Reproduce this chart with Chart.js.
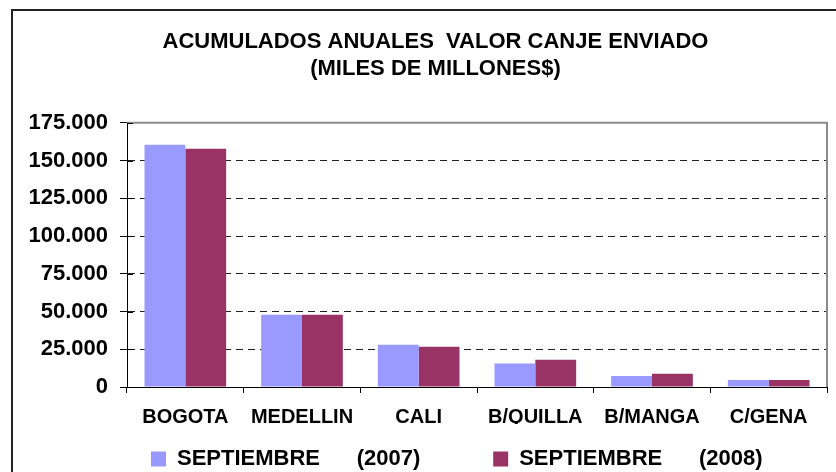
<!DOCTYPE html>
<html>
<head>
<meta charset="utf-8">
<script src="https://cdn.jsdelivr.net/npm/chart.js@4"></script>
<style>
  body { margin: 0; background: #fff; }
</style>
</head>
<body>
<canvas id="chart" width="836" height="472"></canvas>
<script>
const ciudades = ['BOGOTA', 'MEDELLIN', 'CALI', 'B/QUILLA', 'B/MANGA', 'C/GENA'];
const sept2007 = [160400, 47900, 28000, 15500, 7300, 4700];
const sept2008 = [157800, 47900, 26700, 18000, 8700, 4700];
const serieLabels = ['SEPTIEMBRE      (2007)', 'SEPTIEMBRE      (2008)'];
const titulo = ['ACUMULADOS ANUALES  VALOR CANJE ENVIADO', '(MILES DE MILLONES$)'];

const fuente = "'Liberation Sans', Arial, sans-serif";

// miles con punto
const fmt = v => String(v).replace(/\B(?=(\d{3})+(?!\d))/g, '.');

// marco exterior, borde gris del area y marcas internas del eje Y
const marcos = {
  id: 'marcos',
  afterLayout(chart) {
    // el titulo va centrado en el marco de Excel, un poco a la derecha
    chart.titleBlock.left += 15;
    chart.titleBlock.right += 15;
  },
  beforeDraw(chart) {
    const ctx = chart.ctx;
    ctx.save();
    ctx.fillStyle = '#fff';
    ctx.fillRect(0, 0, chart.width, chart.height);
    ctx.strokeStyle = '#222';
    ctx.lineWidth = 2;
    ctx.strokeRect(12, 10, 900, 600);
    ctx.restore();
  },
  afterDraw(chart) {
    const { ctx, chartArea: a } = chart;
    const y = chart.scales.y;
    ctx.save();
    ctx.strokeStyle = '#8c8c8c';
    ctx.lineWidth = 2;
    ctx.beginPath();
    ctx.moveTo(a.left, a.top);
    ctx.lineTo(a.right, a.top);
    ctx.lineTo(a.right, a.bottom);
    ctx.stroke();
    ctx.strokeStyle = '#000';
    ctx.lineWidth = 1;
    ctx.beginPath();
    y.ticks.forEach(t => {
      const py = Math.round(y.getPixelForValue(t.value)) + 0.5;
      ctx.moveTo(a.left, py);
      ctx.lineTo(a.left + 6, py);
    });
    ctx.stroke();
    ctx.restore();
  }
};

new Chart(document.getElementById('chart'), {
  type: 'bar',
  data: {
    labels: ciudades,
    datasets: [
      { label: serieLabels[0], data: sept2007, backgroundColor: '#9999FF' },
      { label: serieLabels[1], data: sept2008, backgroundColor: '#993366' }
    ]
  },
  options: {
    responsive: false,
    animation: false,
    layout: { padding: { left: 14, right: 9, top: 0, bottom: -8 } },
    datasets: {
      bar: { categoryPercentage: 0.7, barPercentage: 1 }
    },
    plugins: {
      title: {
        display: true,
        text: titulo,
        color: '#000',
        font: { family: fuente, size: 22, weight: 'bold' },
        padding: { top: 29, bottom: 41 }
      },
      legend: {
        position: 'bottom',
        fullSize: false,
        align: 'start',
        labels: {
          color: '#000',
          font: { family: fuente, size: 22, weight: 'bold' },
          boxWidth: 15,
          boxHeight: 15,
          padding: 24,
          generateLabels(chart) {
            const items = Chart.defaults.plugins.legend.labels.generateLabels(chart);
            items.forEach((it, i) => {
              it.lineWidth = 0;
              if (i === 0) it.text = it.text + ' '.repeat(8);
            });
            return items;
          }
        }
      },
      tooltip: { enabled: false }
    },
    scales: {
      x: {
        grid: {
          offset: true,
          drawOnChartArea: false,
          tickLength: 6,
          color: '#000'
        },
        border: { color: '#000', width: 1 },
        ticks: {
          color: '#000',
          padding: 12,
          maxRotation: 0,
          font: { family: fuente, size: 20, weight: 'bold' }
        },
        afterFit(s) { s.height = 37; }
      },
      y: {
        min: 0,
        max: 175000,
        ticks: {
          stepSize: 25000,
          color: '#000',
          padding: 12,
          font: { family: fuente, size: 22, weight: 'bold' },
          callback: v => fmt(v)
        },
        grid: {
          color: ctx => (ctx.tick && (ctx.tick.value === 0 || ctx.tick.value === 175000)) ? 'rgba(0,0,0,0)' : '#222',
          tickColor: '#000',
          tickLength: 7,
          tickBorderDash: [],
          lineWidth: 1
        },
        border: { color: '#000', width: 1, dash: [7, 5] },
        afterFit(s) { s.width = 113; }
      }
    }
  },
  plugins: [marcos]
});
</script>
</body>
</html>
